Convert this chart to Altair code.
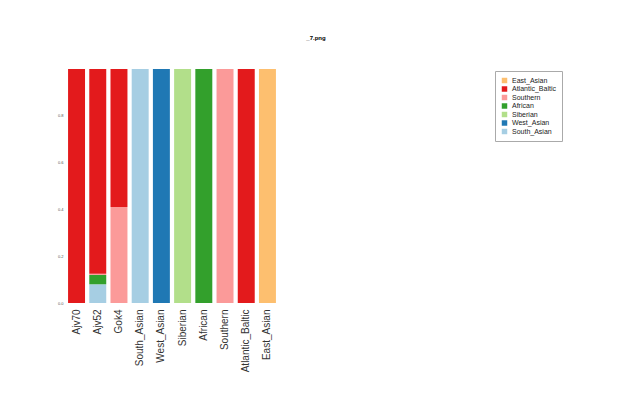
import altair as alt
import pandas as pd

samples = ["Ajv70", "Ajv52", "Gok4", "South_Asian", "West_Asian", "Siberian",
           "African", "Southern", "Atlantic_Baltic", "East_Asian"]
components = ["South_Asian", "West_Asian", "Siberian", "African", "Southern",
              "Atlantic_Baltic", "East_Asian"]
colors = ["#a6cee3", "#1f78b4", "#b2df8a", "#33a02c", "#fb9a99", "#e31a1c", "#fdbf6f"]

# fraction of each component per sample
South_Asian_v     = [0.00, 0.08, 0.00, 1.00, 0.00, 0.00, 0.00, 0.00, 0.00, 0.00]
West_Asian_v      = [0.00, 0.00, 0.00, 0.00, 1.00, 0.00, 0.00, 0.00, 0.00, 0.00]
Siberian_v        = [0.00, 0.00, 0.00, 0.00, 0.00, 1.00, 0.00, 0.00, 0.00, 0.00]
African_v         = [0.00, 0.04, 0.00, 0.00, 0.00, 0.00, 1.00, 0.00, 0.00, 0.00]
Southern_v        = [0.00, 0.005, 0.41, 0.00, 0.00, 0.00, 0.00, 1.00, 0.00, 0.00]
Atlantic_Baltic_v = [1.00, 0.875, 0.59, 0.00, 0.00, 0.00, 0.00, 0.00, 1.00, 0.00]
East_Asian_v      = [0.00, 0.00, 0.00, 0.00, 0.00, 0.00, 0.00, 0.00, 0.00, 1.00]

series = [South_Asian_v, West_Asian_v, Siberian_v, African_v, Southern_v,
          Atlantic_Baltic_v, East_Asian_v]

rows = []
for ci, (comp, vals) in enumerate(zip(components, series)):
    for s, v in zip(samples, vals):
        rows.append({"sample": s, "component": comp, "value": v, "order": ci})
df = pd.DataFrame(rows)

chart = alt.Chart(df, title=alt.Title("_7.png", fontSize=6, fontWeight="bold",
                                       font="Liberation Sans", color="#000", offset=28,
                                       dx=144)).mark_bar().encode(
    x=alt.X("sample:N", sort=samples, title=None,
            scale=alt.Scale(paddingInner=0.2, paddingOuter=0.05),
            axis=alt.Axis(labelAngle=-90, labelFontSize=10, labelColor="#333",
                          labelFont="Liberation Sans", ticks=False, domain=False,
                          labelPadding=6, labelAlign="right", labelBaseline="middle")),
    y=alt.Y("value:Q", title=None, stack="zero",
            scale=alt.Scale(domain=[0, 1], nice=False),
            axis=alt.Axis(values=[0, 0.2, 0.4, 0.6, 0.8], format=".1f", labelFontSize=4,
                          labelColor="#555", ticks=False, domain=False, grid=False,
                          labelPadding=4)),
    color=alt.Color("component:N",
                    scale=alt.Scale(domain=components[::-1], range=colors[::-1]),
                    legend=alt.Legend(title=None, orient="none", legendX=428, legendY=2,
                                      symbolType="square", symbolSize=30, labelFontSize=7,
                                      labelFont="Liberation Sans", labelColor="#222",
                                      rowPadding=0.5, strokeColor="#aaa", padding=6,
                                      symbolStrokeWidth=0, labelLimit=200)),
    order=alt.Order("order:Q"),
).properties(
    width=210, height=234,
    autosize=alt.AutoSizeParams(type="none"),
    padding={"left": 59, "top": 61, "right": 355, "bottom": 90},
).configure_view(stroke=None)

chart.save("out.html", embed_options={"renderer": "svg", "actions": False})
